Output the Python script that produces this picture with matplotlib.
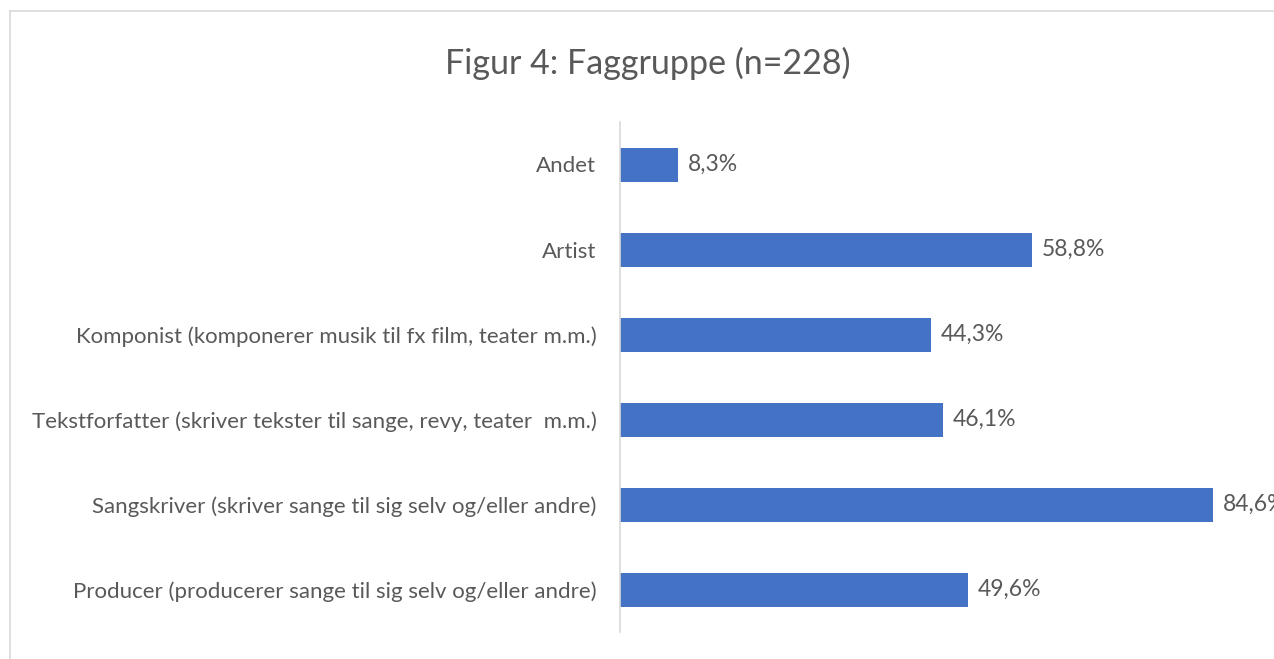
import matplotlib
matplotlib.use("Agg")
import matplotlib.pyplot as plt
from matplotlib.lines import Line2D

categories = [
    "Andet",
    "Artist",
    "Komponist (komponerer musik til fx film, teater m.m.)",
    "Tekstforfatter (skriver tekster til sange, revy, teater  m.m.)",
    "Sangskriver (skriver sange til sig selv og/eller andre)",
    "Producer (producerer sange til sig selv og/eller andre)",
]
values = [8.3, 58.8, 44.3, 46.1, 84.6, 49.6]
title = "Figur 4: Faggruppe (n=228)"

bar_color = "#4472C4"
text_color = "#595959"

plt.rcParams['font.family'] = ['Lato', 'DejaVu Sans']

fig = plt.figure(figsize=(12.74, 6.59), dpi=100)
ax = fig.add_axes([620 / 1274, 1 - 632 / 659, 640 / 1274, 510 / 659])

ypos = list(range(len(categories)))
ax.barh(ypos, values, height=0.4, color=bar_color)
ax.set_ylim(len(categories) - 0.5, -0.5)
ax.set_xlim(0, 640 / 7.01)

ax.set_yticks(ypos)
ax.set_yticklabels(categories, fontsize=16, color=text_color)
ax.tick_params(axis="y", length=0, pad=17)
ax.set_xticks([])

for s in ["top", "right", "bottom"]:
    ax.spines[s].set_visible(False)
ax.spines["left"].set_color("#D9D9D9")
ax.spines["left"].set_linewidth(1.2)

for y, v in zip(ypos, values):
    ax.annotate(f"{v:.1f}%".replace(".", ","), xy=(v, y), xytext=(7, 0),
                textcoords="offset points", va="center", ha="left",
                fontsize=16.5, color=text_color, annotation_clip=False)

fig.text(648 / 1274, 1 - 63 / 659, title, ha="center", va="center",
         fontsize=24.5, color=text_color)

# outer chart border (left and top, the rest is cropped)
fig.add_artist(Line2D([10 / 1274, 10 / 1274], [0, 1 - 11 / 659],
                      transform=fig.transFigure, color="#D9D9D9", lw=1.2))
fig.add_artist(Line2D([10 / 1274, 1], [1 - 11 / 659, 1 - 11 / 659],
                      transform=fig.transFigure, color="#D9D9D9", lw=1.2))

fig.savefig("out.png", dpi=100)
